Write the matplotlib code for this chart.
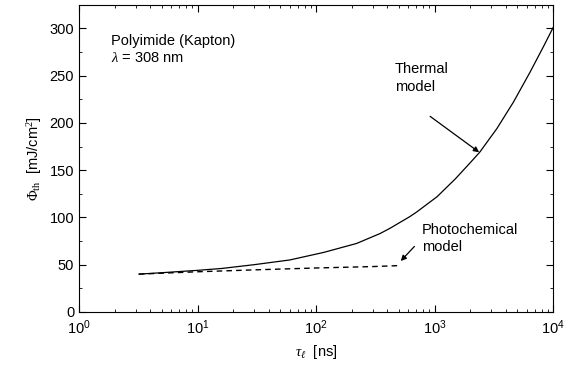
import matplotlib
matplotlib.use('Agg')
import matplotlib.pyplot as plt
from matplotlib.ticker import MultipleLocator, LogLocator, NullFormatter

plt.rcParams['font.family'] = ['Liberation Sans', 'DejaVu Sans']
plt.rcParams['mathtext.fontset'] = 'custom'
plt.rcParams['mathtext.rm'] = 'Liberation Serif'
plt.rcParams['mathtext.it'] = 'Liberation Serif:italic'

# thermal model curve
tau_thermal = [3.2, 5, 10, 16, 30, 60, 116, 220, 347, 420, 620, 710, 1050,
               1500, 2000, 2400, 3350, 4620, 6400, 8300, 10000]
phi_thermal = [40, 41.5, 44, 46, 50, 55, 63, 72.5, 83, 88.5, 101, 106, 122,
               141, 158, 169, 194, 222, 254, 281, 301]

# photochemical model curve
tau_photo = [3.2, 10, 30, 100, 300, 500]
phi_photo = [40, 42.5, 44.5, 46.5, 48, 49]

fig = plt.figure(figsize=(5.65, 3.74), dpi=100)
ax = fig.add_axes([0.140, 0.166, 0.839, 0.821])

ax.plot(tau_thermal, phi_thermal, color='black', lw=0.9)
ax.plot(tau_photo, phi_photo, color='black', lw=1.0, linestyle=(0, (4, 3)))

ax.set_xscale('log')
ax.set_xlim(1, 1e4)
ax.set_ylim(0, 325)
ax.yaxis.set_major_locator(MultipleLocator(50))
ax.yaxis.set_minor_locator(MultipleLocator(25))
ax.xaxis.set_minor_locator(LogLocator(base=10, subs=range(2, 10)))
ax.xaxis.set_minor_formatter(NullFormatter())
ax.tick_params(which='both', direction='in', top=True, right=True, labelsize=10.5)
ax.tick_params(which='major', length=5)
ax.tick_params(which='minor', length=2.5)
ax.tick_params(axis='x', pad=5)

ax.set_xlabel(r'$\tau_\ell$  [ns]', fontsize=10.5)
ax.set_ylabel(r'$\Phi_{\rm th}$  [mJ/cm$^2$]', fontsize=10.5)

ax.text(1.86, 294, 'Polyimide (Kapton)\n$\\lambda$ = 308 nm', fontsize=10.5,
        va='top', linespacing=1.3)

ax.text(464, 264, 'Thermal\nmodel', fontsize=10.5, va='top', linespacing=1.3)
ax.annotate('', xy=(2375, 169), xytext=(916, 207),
            arrowprops=dict(arrowstyle='-|>', color='black', lw=0.9,
                            shrinkA=0, shrinkB=0, mutation_scale=8))
ax.text(780, 94, 'Photochemical\nmodel', fontsize=10.5, va='top', linespacing=1.3)
ax.annotate('', xy=(518, 53.9), xytext=(675, 69.3),
            arrowprops=dict(arrowstyle='-|>', color='black', lw=0.9,
                            shrinkA=0, shrinkB=0, mutation_scale=8))

plt.savefig('out.png', dpi=100)
